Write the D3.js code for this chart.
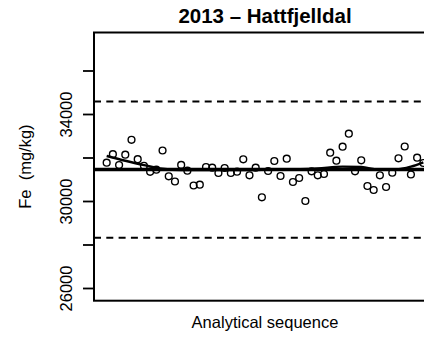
<!DOCTYPE html>
<html>
<head>
<meta charset="utf-8">
<script src="https://cdn.jsdelivr.net/npm/d3@7"></script>
<style>
html,body{margin:0;padding:0;background:#fff;}
svg{display:block;}
text{font-family:"Liberation Sans",Arial,sans-serif;fill:#000;}
</style>
</head>
<body>
<svg id="chart" width="424" height="337"></svg>
<script>
// ---- data ----
const title = "2013 – Hattfjelldal";
const xLabel = "Analytical sequence";
const yLabel = "Fe  (mg/kg)";
const feValues = [31761,32152,31655,32129,32814,31922,31620,31343,31439,32322,
  31136,30897,31660,31393,30713,30749,31563,31531,31287,31517,
  31287,31347,31917,31182,31531,30170,31379,31839,31149,31945,
  30874,31057,30000,31366,31182,31241,32221,31853,32497,33094,
  31366,31871,30690,30506,31182,30644,31301,31963,32506,31218,
  31991,31747];
const smoothIdx = [1,4,7,10,13,20,26,30,35,39,42,45,48,50,52];
const smoothVal = [32070,31850,31650,31480,31420,31420,31430,31440,31500,31580,31560,31440,31460,31580,31780];
const centerValue = 31450;
const limitValues = [34575, 28313];
const yTicks = [26000,28000,30000,32000,34000,36000];
const yTickLabels = ["26000","","30000","","34000",""];

// ---- layout ----
const svg = d3.select("#chart");
const L = 94, R = 436, T = 32.5, B = 300.7;
const n = feValues.length;
const pad = (n - 1) * 0.04;
const x = d3.scaleLinear().domain([1 - pad, n + pad]).range([L, R]);
const y = d3.scaleLinear().domain([25416, 37747]).range([B, T]);

const g = svg.append("g");

// limit lines
g.selectAll(".lim").data(limitValues).enter().append("line")
  .attr("x1", L).attr("x2", R)
  .attr("y1", d => y(d)).attr("y2", d => y(d))
  .attr("stroke", "#000").attr("stroke-width", 2)
  .attr("stroke-dasharray", "7,5.3");

// center line
g.append("line")
  .attr("x1", L).attr("x2", R)
  .attr("y1", y(centerValue)).attr("y2", y(centerValue))
  .attr("stroke", "#000").attr("stroke-width", 3.5);

// smooth line
const smoothData = smoothIdx.map((d, i) => [d, smoothVal[i]]);
g.append("path")
  .datum(smoothData)
  .attr("fill", "none").attr("stroke", "#000").attr("stroke-width", 2.4)
  .attr("d", d3.line().x(d => x(d[0])).y(d => y(d[1])).curve(d3.curveMonotoneX));

// points
g.selectAll(".pt").data(feValues).enter().append("circle")
  .attr("cx", (d, i) => x(i + 1)).attr("cy", d => y(d))
  .attr("r", 3.4).attr("fill", "none")
  .attr("stroke", "#000").attr("stroke-width", 1.4);

// box
g.append("rect")
  .attr("x", L).attr("y", T).attr("width", R - L).attr("height", B - T)
  .attr("fill", "none").attr("stroke", "#000").attr("stroke-width", 2);

// y axis
const yAxis = d3.axisLeft(y).tickValues(yTicks)
  .tickFormat((d, i) => yTickLabels[i]).tickSize(11).tickPadding(0);
const ya = svg.append("g").attr("transform", `translate(${L},0)`).call(yAxis);
ya.select(".domain").remove();
ya.selectAll(".tick line").attr("stroke", "#000").attr("stroke-width", 1.8);
ya.selectAll(".tick text")
  .attr("x", 0).attr("y", 0).attr("dy", 0)
  .attr("text-anchor", "middle")
  .attr("transform", "translate(-22,0) rotate(-90)")
  .style("font-size", "16.5px")
  .style("font-family", "'Liberation Sans',Arial,sans-serif")
  .attr("fill", "#000");

// title
svg.append("text").attr("x", (L + R) / 2).attr("y", 23)
  .attr("text-anchor", "middle").style("font-size", "20.5px").style("font-weight", "bold")
  .text(title);

// x label
svg.append("text").attr("x", (L + R) / 2).attr("y", 328)
  .attr("text-anchor", "middle").style("font-size", "16.5px")
  .text(xLabel);

// y label
svg.append("text")
  .attr("transform", `translate(30.5,${(T + B) / 2}) rotate(-90)`)
  .attr("text-anchor", "middle").style("font-size", "16.5px")
  .style("white-space", "pre")
  .text(yLabel);
</script>
</body>
</html>
